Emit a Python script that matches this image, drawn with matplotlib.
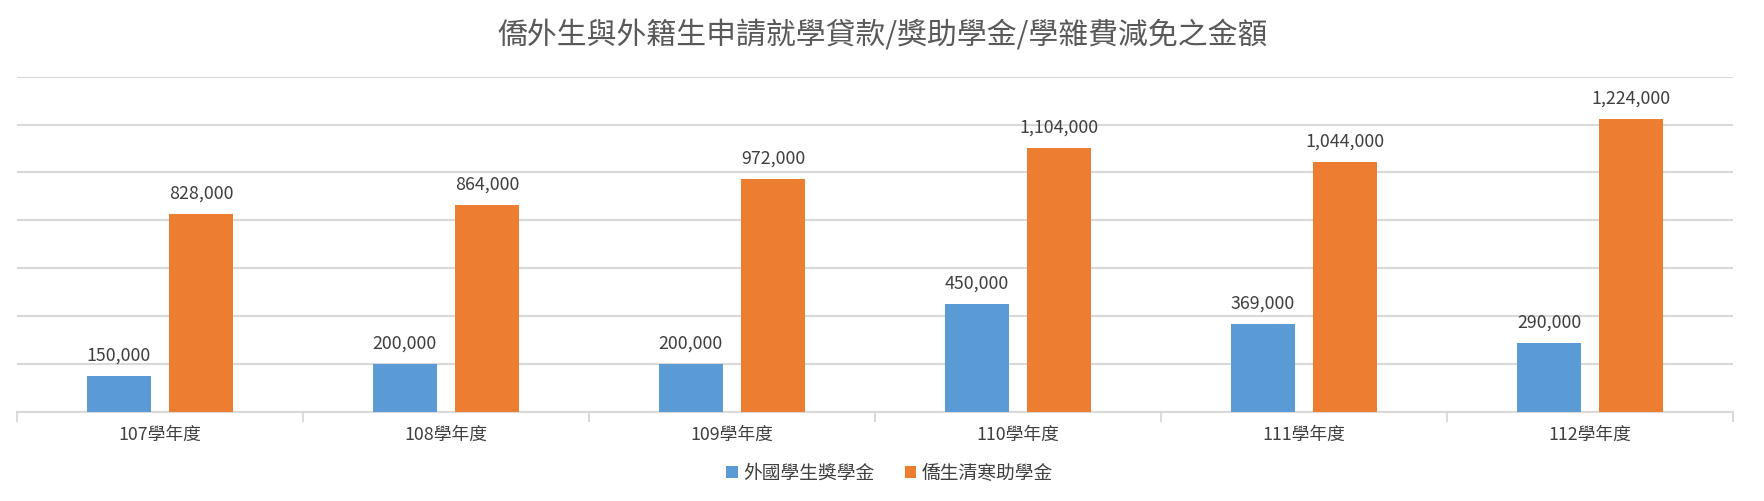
import numpy as np
import matplotlib
matplotlib.use("Agg")
import matplotlib.pyplot as plt
from matplotlib.ticker import MultipleLocator

plt.rcParams['font.family'] = ['Noto Sans CJK TC', 'DejaVu Sans']

# data
years = ['107學年度', '108學年度', '109學年度', '110學年度', '111學年度', '112學年度']
foreign = [150000, 200000, 200000, 450000, 369000, 290000]
overseas = [828000, 864000, 972000, 1104000, 1044000, 1224000]
series_names = ['外國學生獎學金', '僑生清寒助學金']
title = '僑外生與外籍生申請就學貸款/獎助學金/學雜費減免之金額'

blue = '#5b9bd5'
orange = '#ed7d31'
text_c = '#404040'
grid_c = '#d9d9d9'

fig = plt.figure(figsize=(17.65, 5.01), dpi=100)
ax = fig.add_axes([0.0096, 0.1776, 0.9724, 0.6695])

x = np.arange(len(years))
w = 0.224
off = 0.144
b1 = ax.bar(x - off, foreign, w, color=blue, label=series_names[0], zorder=3)
b2 = ax.bar(x + off, overseas, w, color=orange, label=series_names[1], zorder=3)

for bars, vals in ((b1, foreign), (b2, overseas)):
    for r, v in zip(bars, vals):
        ax.annotate(f'{v:,}', (r.get_x() + r.get_width() / 2, v),
                    xytext=(0, 8), textcoords='offset points',
                    ha='center', va='bottom', fontsize=12.8, color=text_c)

ax.set_xlim(-0.5, len(years) - 0.5)
ax.set_ylim(0, 1400000)
ax.yaxis.set_major_locator(MultipleLocator(200000))
ax.grid(axis='y', color=grid_c, linewidth=1.5, zorder=0)
ax.set_yticklabels([])
ax.tick_params(axis='y', length=0)

for s in ['top', 'right', 'left']:
    ax.spines[s].set_visible(False)
ax.spines['bottom'].set_color(grid_c)
ax.spines['bottom'].set_linewidth(1.5)

ax.set_xticks(x)
ax.set_xticklabels(years, fontsize=12.8, color=text_c)
ax.tick_params(axis='x', length=0, pad=10)
ax.set_xticks(np.arange(-0.5, len(years)), minor=True)
ax.tick_params(axis='x', which='minor', length=7, width=1.5, color=grid_c)

fig.text(0.5, 0.93, title, ha='center', va='center', fontsize=21.5,
         color='#595959', fontweight='light')

fig.legend(loc='center', bbox_to_anchor=(0.504, 0.055), ncol=2, frameon=False,
           fontsize=13.5, handlelength=0.6, handleheight=0.6, handletextpad=0.3,
           columnspacing=1.6, labelcolor=text_c)

fig.savefig('out.png', dpi=100)
